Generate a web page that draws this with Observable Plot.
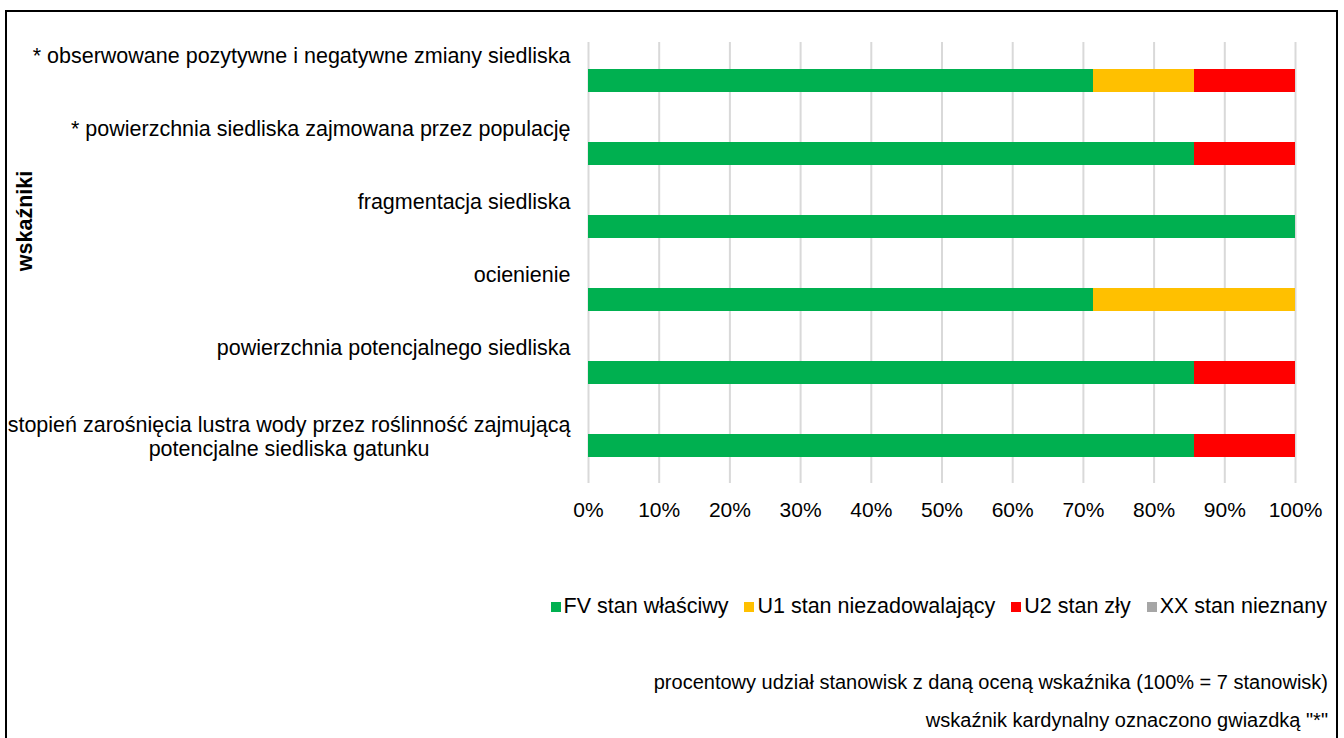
<!DOCTYPE html>
<html lang="pl">
<head>
<meta charset="utf-8">
<script src="https://cdn.jsdelivr.net/npm/d3@7"></script>
<script src="https://cdn.jsdelivr.net/npm/@observablehq/plot@0.6"></script>
<style>
  html, body { margin: 0; padding: 0; background: #fff; }
  body { width: 1344px; height: 738px; position: relative; overflow: hidden;
         font-family: "Liberation Sans", Arial, sans-serif; color: #000; }
  #frame { position: absolute; left: 5px; top: 10px; width: 1333px; height: 780px;
           border: 2px solid #000; box-sizing: border-box; }
  #chart { position: absolute; left: 0; top: 0; }
  #legend { position: absolute; right: 17px; top: 594px; }
  .status-swatches { font: 21.5px "Liberation Sans", Arial, sans-serif; color: #000;
                     margin: 0 !important; min-height: 0 !important; justify-content: flex-end; }
  .status-swatch { margin-right: 16px !important; }
  .status-swatch:last-child { margin-right: 0 !important; }
  .status-swatch > svg { margin-right: 3px !important; }
  .note { position: absolute; right: 16px; font-size: 20px; line-height: 24px; white-space: nowrap; }
</style>
</head>
<body>
<div id="frame"></div>
<div id="chart"></div>
<div id="legend"></div>
<div class="note" style="top:670px">procentowy udział stanowisk z daną oceną wskaźnika (100% = 7 stanowisk)</div>
<div class="note" style="top:708px">wskaźnik kardynalny oznaczono gwiazdką "*"</div>
<script>
// Indicators (top to bottom); "\n" marks a line break in the label
const indicators = [
  "* obserwowane pozytywne i negatywne zmiany siedliska",
  "* powierzchnia siedliska zajmowana przez populację",
  "fragmentacja siedliska",
  "ocienienie",
  "powierzchnia potencjalnego siedliska",
  "stopień zarośnięcia lustra wody przez roślinność zajmującą\npotencjalne siedliska gatunku"
];

// Assessment categories and their colours
const statuses = ["FV stan właściwy", "U1 stan niezadowalający", "U2 stan zły", "XX stan nieznany"];
const statusColors = ["#00b050", "#ffc000", "#ff0000", "#a6a6a6"];

// Number of sites with each assessment, per indicator
const stations = 7;
const fv = [5, 6, 7, 5, 6, 6];
const u1 = [1, 0, 0, 2, 0, 0];
const u2 = [1, 1, 0, 0, 1, 1];
const xx = [0, 0, 0, 0, 0, 0];

const xTicks = [0, 0.1, 0.2, 0.3, 0.4, 0.5, 0.6, 0.7, 0.8, 0.9, 1];

const counts = [fv, u1, u2, xx];
const rows = indicators.flatMap((indicator, i) =>
  statuses.map((status, j) => ({indicator, status, share: counts[j][i] / stations}))
).filter(d => d.share > 0);

const LABEL_SIZE = 21.5;
const TICK_SIZE = 21;
const LABEL_FONT = `${LABEL_SIZE}px "Liberation Sans", Arial, sans-serif`;
const LABEL_GAP = 18;

function textWidth(str) {
  const ctx = document.createElement("canvas").getContext("2d");
  ctx.font = LABEL_FONT;
  return ctx.measureText(str).width;
}

const singleLine = indicators.filter(d => !d.includes("\n"));
const wrapped = indicators.filter(d => d.includes("\n"));

// Wrapped labels: first line right-aligned, following lines centred under it
const wrappedMarks = wrapped.flatMap(d => {
  const [first, ...rest] = d.split("\n");
  return [
    Plot.text([d], {
      x: () => 0, y: (v) => v, text: () => first,
      textAnchor: "end", dx: -LABEL_GAP, dy: -21,
      fontSize: LABEL_SIZE, fill: "#000"
    }),
    Plot.text([d], {
      x: () => 0, y: (v) => v, text: () => rest.join("\n"),
      textAnchor: "middle", lineAnchor: "top", lineHeight: 1.07,
      dx: -(LABEL_GAP + textWidth(first) / 2), dy: -6,
      fontSize: LABEL_SIZE, fill: "#000"
    })
  ];
});

const chart = Plot.plot({
  width: 1344,
  height: 540,
  marginLeft: 588,
  marginRight: 49,
  marginTop: 42,
  marginBottom: 57,
  style: {fontFamily: '"Liberation Sans", Arial, sans-serif', fontSize: TICK_SIZE + "px", color: "#000", background: "transparent"},
  x: {domain: [0, 1], axis: null},
  y: {domain: indicators, paddingInner: 0.687, paddingOuter: 0.3435, axis: null},
  color: {domain: statuses, range: statusColors},
  marks: [
    Plot.gridX(xTicks, {stroke: "#d9d9d9", strokeOpacity: 1, strokeWidth: 2}),
    Plot.barX(rows, Plot.stackX({x: "share", y: "indicator", fill: "status"})),
    Plot.axisX(xTicks, {
      label: null, tickSize: 0, tickPadding: 19, tickFormat: d3.format(".0%"),
      fontSize: TICK_SIZE, fill: "#000"
    }),
    // Single-line indicator labels, right-aligned above their bars
    Plot.text(singleLine, {
      x: () => 0, y: (d) => d, text: (d) => d,
      textAnchor: "end", dx: -LABEL_GAP, dy: -25,
      fontSize: LABEL_SIZE, fill: "#000"
    }),
    ...wrappedMarks,
    // Vertical axis title
    Plot.text(["wskaźniki"], {
      frameAnchor: "left", textAnchor: "middle", rotate: -90, dx: -563, dy: -42,
      fontSize: LABEL_SIZE, fontWeight: "bold", fill: "#000"
    })
  ]
});
document.getElementById("chart").append(chart);

const legend = Plot.legend({
  color: {domain: statuses, range: statusColors},
  swatchSize: 10,
  className: "status"
});
document.getElementById("legend").append(legend);
</script>
</body>
</html>
